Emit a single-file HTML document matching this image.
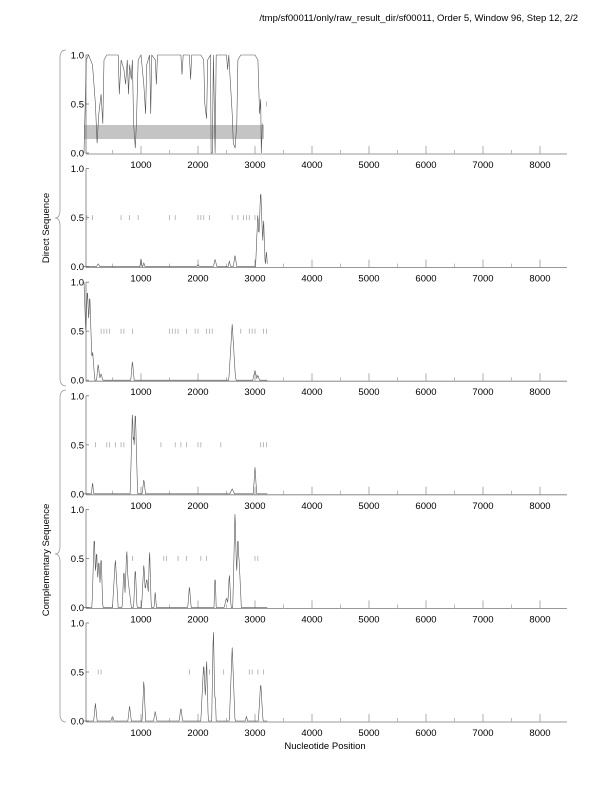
<!DOCTYPE html>
<html><head><meta charset="utf-8"><style>
html,body{margin:0;padding:0;background:#fff;}
svg{display:block;font-family:"Liberation Sans",sans-serif;}
</style></head><body>
<svg id="s" width="612" height="792" xmlns="http://www.w3.org/2000/svg">
<text x="578" y="21" font-size="9.5" text-anchor="end" fill="#000">/tmp/sf00011/only/raw_result_dir/sf00011, Order 5, Window 96, Step 12, 2/2</text>
<text x="325" y="749" font-size="9.5" text-anchor="middle" fill="#000">Nucleotide Position</text>
<text transform="translate(49,228) rotate(-90)" font-size="9.5" text-anchor="middle">Direct Sequence</text>
<text transform="translate(49,560) rotate(-90)" font-size="9.5" text-anchor="middle">Complementary Sequence</text>
<path d="M66,50 Q60,50 60,58 L60,210 Q60,218 55,218 Q60,218 60,226 L60,378 Q60,386 66,386" fill="none" stroke="#999" stroke-width="0.8"/>
<path d="M66,390 Q60,390 60,398 L60,546 Q60,554 55,554 Q60,554 60,562 L60,714 Q60,722 66,722" fill="none" stroke="#999" stroke-width="0.8"/>
<g id="g"></g>
</svg>
<script>
var g=document.getElementById('g');var h='';
function X(n){return 84+n*0.057;}
var panels=[
 {line:[[0,0],[40,0.95],[80,1],[150,0.9],[200,0.5],[230,0.1],[260,0.4],[300,0.6],[330,0.3],[350,0.95],[400,1],[600,1],[620,0.6],[650,0.95],[700,0.85],[730,0.7],[760,0.95],[780,0.6],[800,0.9],[830,0.75],[850,0.95],[870,0.3],[900,0.05],[920,0.3],[950,0.95],[1000,1],[1050,0.7],[1080,0.4],[1100,0.9],[1150,1],[1170,0.4],[1190,1],[1250,0.95],[1270,0.7],[1290,1],[1700,1],[1720,0.8],[1740,1],[1850,1],[1870,0.75],[1890,1],[2050,1],[2100,0.95],[2120,0.5],[2150,0.35],[2170,0.95],[2220,1],[2230,0],[2250,0],[2270,1],[2300,0],[2320,1],[2500,1],[2520,0.85],[2540,1],[2600,0.4],[2620,0.1],[2650,0.05],[2680,0.3],[2700,0.95],[2750,1],[3000,1],[3050,0.95],[3080,0.4],[3100,0.55],[3110,0],[3130,0.3]],
  ticks:[3200],band:true},
 {peaks:[[250,0.03,30],[1000,0.08,20],[1050,0.04,20],[2000,0.02,30],[2300,0.08,30],[2550,0.06,20],[2650,0.12,30],[3050,0.55,40],[3100,0.8,50],[3150,0.5,30],[3200,0.15,20]],
  ticks:[50,150,650,800,950,1500,1600,2000,2050,2100,2200,2600,2700,2800,2850,2900,3000]},
 {peaks:[[0,1,60],[60,0.95,60],[100,0.9,50],[150,0.3,40],[250,0.17,30],[300,0.07,30],[850,0.2,30],[2600,0.57,60],[2650,0.05,20],[3000,0.1,40],[3050,0.05,30]],
  ticks:[300,350,400,450,650,700,850,1500,1550,1600,1650,1800,1950,2000,2150,2200,2250,2750,2900,2950,3000,3150,3200]},
 {peaks:[[150,0.12,20],[850,0.85,40],[900,0.88,40],[870,0.6,60],[1050,0.15,30],[2600,0.05,40],[3000,0.27,30]],
  ticks:[200,400,450,550,650,700,1350,1600,1700,1800,2000,2050,2400,3100,3150,3200]},
 {peaks:[[180,0.75,40],[220,0.6,40],[260,0.5,40],[300,0.55,30],[250,0.35,80],[550,0.5,50],[700,0.4,30],[750,0.6,40],[770,0.3,60],[900,0.42,30],[1050,0.45,40],[1100,0.3,60],[1150,0.6,30],[1250,0.17,20],[1850,0.22,30],[2300,0.35,20],[2500,0.1,40],[2550,0.35,30],[2650,1.0,40],[2700,0.75,40],[2720,0.5,40]],
  ticks:[850,1400,1450,1650,1800,2050,2150,3000,3050]},
 {peaks:[[200,0.18,30],[500,0.05,30],[800,0.15,30],[1050,0.43,30],[1250,0.1,30],[1700,0.14,30],[2100,0.6,50],[2150,0.65,30],[2270,0.97,30],[2300,0.3,20],[2600,0.75,50],[3100,0.4,40],[2850,0.05,20]],
  ticks:[250,300,1850,2100,2200,2450,2900,2950,3050,3150]}
];
panels.forEach(function(p,k){
 var b=153+k*113.6, t=b-98;
 function Y(v){return b-v*98;}
 if(p.band){h+='<rect x="84" y="'+Y(0.286)+'" width="180" height="'+(0.143*98)+'" fill="#c4c4c4"/>';}
 h+='<line x1="86" y1="'+t+'" x2="86" y2="'+(b+1)+'" stroke="#777" stroke-width="0.8"/>';
 h+='<line x1="86" y1="'+(b+1)+'" x2="567" y2="'+(b+1)+'" stroke="#777" stroke-width="0.8"/>';
 [0,0.5,1].forEach(function(v){h+='<line x1="86" y1="'+Y(v)+'" x2="89" y2="'+Y(v)+'" stroke="#777" stroke-width="0.8"/>';
  h+='<text x="84" y="'+(Y(v)+3.5)+'" font-size="9.5" text-anchor="end">'+v.toFixed(1)+'</text>';});
 for(var n=1000;n<=8000;n+=1000){var x=X(n);h+='<line x1="'+x+'" y1="'+(b-7)+'" x2="'+x+'" y2="'+(b+1)+'" stroke="#999" stroke-width="0.8"/>';
  h+='<text x="'+x+'" y="'+(b+15)+'" font-size="9.5" text-anchor="middle">'+n+'</text>';}
 for(var n=500;n<=8000;n+=1000){var x=X(n);h+='<line x1="'+x+'" y1="'+(b-3)+'" x2="'+x+'" y2="'+(b+1)+'" stroke="#aaa" stroke-width="0.8"/>';}
 p.ticks.forEach(function(n){var x=X(n);h+='<line x1="'+x+'" y1="'+(Y(0.5)-2.5)+'" x2="'+x+'" y2="'+(Y(0.5)+2.5)+'" stroke="#aaa" stroke-width="0.8"/>';});
 var pts=[];
 if(p.line){pts=p.line.map(function(q){return X(q[0]).toFixed(1)+','+Y(q[1]).toFixed(1);});}
 else{for(var n=0;n<=3220;n+=8){var v=0;p.peaks.forEach(function(q){var d=Math.abs(n-q[0]);if(d<q[2]){var w=q[1]*(1-d/q[2]);if(w>v)v=w;}});pts.push(X(n).toFixed(1)+','+Y(v).toFixed(1));}}
 h+='<polyline points="'+pts.join(' ')+'" fill="none" stroke="#555" stroke-width="0.6"/>';
});
g.innerHTML=h;
</script>
</body></html>
